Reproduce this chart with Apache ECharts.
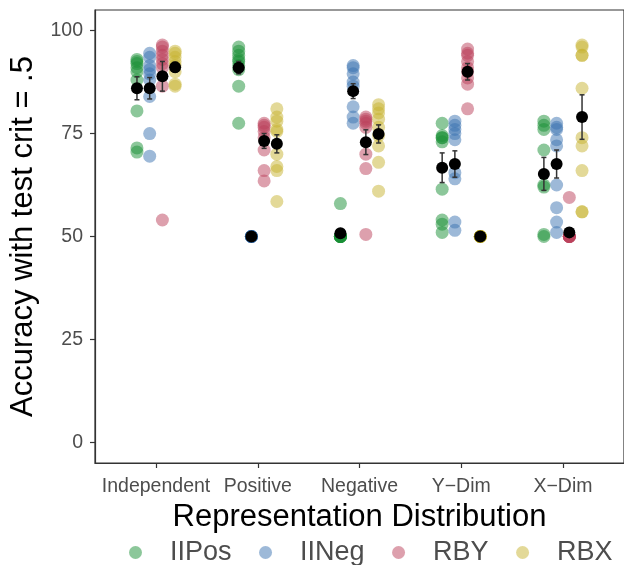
<!DOCTYPE html>
<html>
<head>
<meta charset="utf-8">
<script src="https://cdn.jsdelivr.net/npm/echarts@6/dist/echarts.min.js"></script>
<style>
  html, body { margin: 0; padding: 0; background: #fff; }
  #chart { width: 624px; height: 565px; }
</style>
</head>
<body>
<div id="chart"></div>
<script>
// x categories and groups (dodged inside each category)
const categories = ['Independent', 'Positive', 'Negative', 'Y\u2212Dim', 'X\u2212Dim']
const groups = ['IIPos', 'IINeg', 'RBY', 'RBX']
const yTicks = [0, 25, 50, 75, 100]

// individual accuracies, one sub-list per category
const iiPos = [
  [93, 92.5, 92, 91, 90, 88, 80.5, 71.5, 70.5],
  [96, 95, 94, 93, 92.5, 91.5, 90.5, 86.5, 77.5],
  [58, 50, 50, 50, 50, 50, 50, 50, 50],
  [77.5, 74.5, 74, 74, 73, 61.5, 54, 53, 51],
  [78, 77, 76, 71, 62.5, 62, 50.5, 50]
]
const iiNeg = [
  [94.5, 93.5, 91.5, 90.5, 89.5, 88, 84, 75, 69.5],
  [50, 50, 50, 50, 50, 50, 50, 50],
  [91.5, 91, 89.5, 87.5, 86.5, 81.5, 79, 77.5],
  [78, 77, 76, 75, 73.5, 65.5, 64, 53.5, 51.5],
  [77.5, 76.5, 76, 73.5, 72, 62.5, 57, 53.5, 51]
]
const rby = [
  [96.5, 96, 95, 94, 93, 92, 91, 86.5, 54],
  [77.5, 77, 76.5, 75.5, 74, 71, 66, 63.5],
  [79, 78.5, 78, 77.5, 76.5, 70, 66.5, 50.5],
  [95.5, 94.5, 94, 92.5, 91, 90, 88.5, 87, 81],
  [59.5, 50, 50, 50, 50, 50, 50, 50]
]
const rbx = [
  [95, 94.5, 93.5, 92.5, 91.5, 90, 87, 86.5],
  [81, 79, 78, 76, 75.5, 70, 67, 66, 58.5],
  [82, 81, 80, 78.5, 76.5, 74.5, 72, 68, 61],
  [50, 50, 50, 50, 50, 50, 50, 50],
  [96.5, 96, 94, 94, 86, 74, 72, 66, 56, 56]
]

// means and standard errors, rows = categories, cols = groups
const means = [
  [86.0, 86.0, 88.9, 91.1],
  [91.0, 50.0, 73.2, 72.5],
  [50.8, 85.3, 72.9, 74.9],
  [66.7, 67.6, 90.0, 50.0],
  [65.2, 67.6, 51.0, 79.0]
]
const ses = [
  [2.8, 2.6, 3.6, 1.2],
  [1.5, 0.0, 1.8, 2.2],
  [1.0, 1.8, 3.0, 2.2],
  [3.6, 3.2, 2.0, 0.0],
  [4.0, 3.4, 1.1, 5.4]
]

const colors = ['rgba(25,143,53,0.5)', 'rgba(59,115,177,0.5)', 'rgba(187,65,91,0.5)', 'rgba(199,179,49,0.5)']
const dodge = [-0.1875, -0.0625, 0.0625, 0.1875]
const font = '"Liberation Sans", Arial, Helvetica, sans-serif'

const groupData = [iiPos, iiNeg, rby, rbx]
const pointSeries = groups.map((g, gi) => ({
  name: g,
  type: 'scatter',
  symbolSize: 13,
  itemStyle: { color: colors[gi], opacity: 1 },
  z: 2,
  data: groupData[gi].flatMap((vals, ci) => vals.map(v => [ci + 1 + dodge[gi], v]))
}))

const meanData = []
const barData = []
means.forEach((row, ci) => row.forEach((m, gi) => {
  const x = ci + 1 + dodge[gi]
  meanData.push([x, m])
  barData.push([x, m, m - ses[ci][gi], m + ses[ci][gi]])
}))

const chart = echarts.init(document.getElementById('chart'))
chart.setOption({
  animation: false,
  textStyle: { fontFamily: font },
  grid: { left: 93, top: 10, right: -1.5, bottom: 102, show: true, borderColor: '#333', borderWidth: 1.2 },
  legend: {
    data: groups.map((g, gi) => ({ name: g, icon: 'circle', itemStyle: { color: colors[gi], opacity: 1 } })),
    left: 129, top: 539, width: 620, padding: 0,
    itemWidth: 13, itemHeight: 13, itemGap: 27.5,
    textStyle: { fontSize: 27, color: '#4d4d4d', fontFamily: font, padding: [0, 0, 0, 23] }
  },
  xAxis: {
    type: 'value', min: 0.4, max: 5.6,
    name: 'Representation Distribution', nameLocation: 'middle', nameGap: 28,
    nameTextStyle: { fontSize: 31, color: '#000', fontFamily: font },
    axisLine: { onZero: false, lineStyle: { color: '#333', width: 1.2 } },
    axisTick: { customValues: [1, 2, 3, 4, 5], length: 5, lineStyle: { color: '#333', width: 1.2 } },
    axisLabel: { customValues: [1, 2, 3, 4, 5], formatter: v => categories[Math.round(v) - 1],
      fontSize: 19.5, color: '#4d4d4d', margin: 14, fontFamily: font },
    splitLine: { show: false }
  },
  yAxis: {
    type: 'value', min: -5, max: 105,
    name: 'Accuracy with test crit = .5', nameLocation: 'middle', nameGap: 56,
    nameTextStyle: { fontSize: 31, color: '#000', fontFamily: font },
    axisLine: { show: true, onZero: false, lineStyle: { color: '#333', width: 1.2 } },
    axisTick: { show: true, customValues: yTicks, length: 5, lineStyle: { color: '#333', width: 1.2 } },
    axisLabel: { customValues: yTicks, fontSize: 19.5, color: '#4d4d4d', margin: 12, fontFamily: font },
    splitLine: { show: false }
  },
  series: [
    ...pointSeries,
    {
      type: 'custom', z: 3, silent: true,
      data: barData,
      renderItem: (params, api) => {
        const top = api.coord([api.value(0), api.value(3)])
        const bot = api.coord([api.value(0), api.value(2)])
        const hw = 2.5
        const style = { stroke: '#333', lineWidth: 1.5 }
        return { type: 'group', children: [
          { type: 'line', shape: { x1: top[0], y1: top[1], x2: bot[0], y2: bot[1] }, style },
          { type: 'line', shape: { x1: top[0] - hw, y1: top[1], x2: top[0] + hw, y2: top[1] }, style },
          { type: 'line', shape: { x1: bot[0] - hw, y1: bot[1], x2: bot[0] + hw, y2: bot[1] }, style }
        ] }
      }
    },
    { type: 'scatter', z: 4, symbolSize: 12, itemStyle: { color: '#000', opacity: 1 }, data: meanData, silent: true }
  ]
})
</script>
</body>
</html>
